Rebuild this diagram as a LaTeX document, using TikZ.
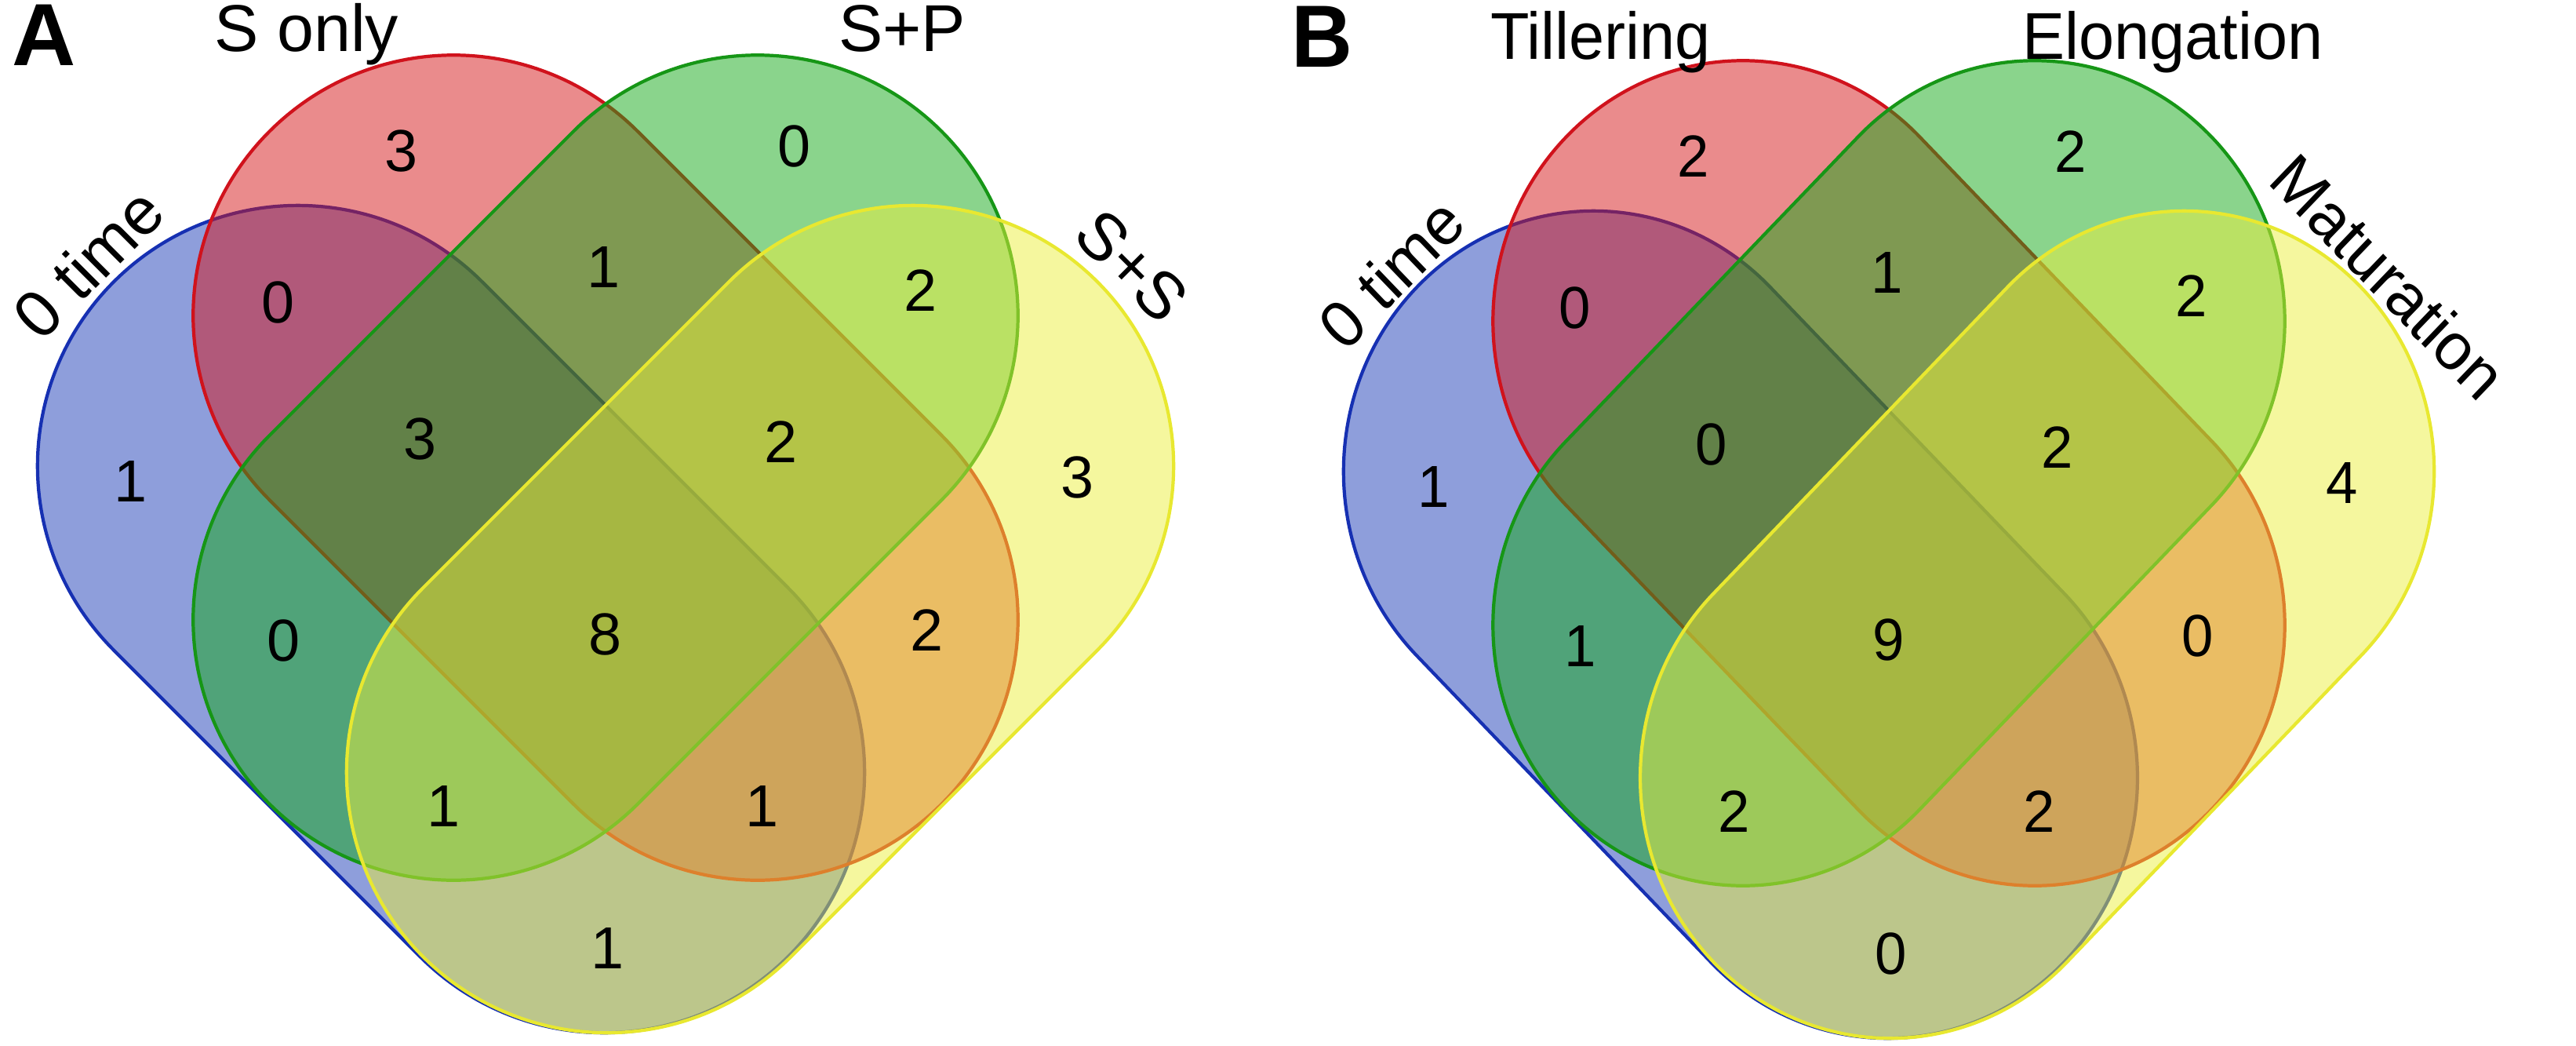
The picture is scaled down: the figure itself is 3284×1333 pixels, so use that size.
\documentclass[tikz,border=0pt]{standalone}
\usepackage{fontspec}
\setmainfont{Liberation Sans}
\definecolor{fblue}{RGB}{29,61,183}
\definecolor{fred}{RGB}{213,23,26}
\definecolor{fgreen}{RGB}{21,169,25}
\definecolor{fyellow}{RGB}{235,239,61}
\definecolor{lblue}{RGB}{22,48,178}
\definecolor{lred}{RGB}{208,18,28}
\definecolor{lgreen}{RGB}{22,150,22}
\definecolor{lyellow}{RGB}{232,232,48}
% capsule: centre x, centre y, angle, style, half length of straight part
\newcommand{\vcapsule}[5]{%
  \path[#4,shift={(#1,#2)},rotate=#3]
    (-#5,-332) -- (#5,-332) arc[start angle=-90,end angle=90,radius=332]
    -- (-#5,332) arc[start angle=90,end angle=270,radius=332] -- cycle;}
\newcommand{\vennsets}{%
  \vcapsule{-197}{789}{-45}{sblue}{276}
  \vcapsule{0}{596}{-45}{sred}{274}
  \vcapsule{0}{596}{45}{sgreen}{274}
  \vcapsule{197}{789}{45}{syellow}{276}}
\begin{document}
\begin{tikzpicture}[x=0.01cm,y=-0.01cm,
  num/.style={font=\fontsize{21.5}{24}\selectfont,inner sep=0pt},
  cat/.style={font=\fontsize{24}{28}\selectfont,inner sep=0pt},
  pan/.style={font=\fontsize{32}{36}\selectfont\bfseries,inner sep=0pt},
  setline/.style={line width=1.2pt,line join=round,fill opacity=0.5},
  sblue/.style={setline,draw=lblue,fill=fblue},
  sred/.style={setline,draw=lred,fill=fred},
  sgreen/.style={setline,draw=lgreen,fill=fgreen},
  syellow/.style={setline,draw=lyellow,fill=fyellow}]
\useasboundingbox (0,0) rectangle (3284,1333);
% ---------- Panel A ----------
\begin{scope}[shift={(772,0)}]
  \vennsets
  \node[num] (a1)  at (-260,192)  {3};
  \node[num] (a2)  at (241,186)   {0};
  \node[num] (a3)  at (-417,385)  {0};
  \node[num] (a4)  at (-2,340)    {1};
  \node[num] (a5)  at (402,370)   {2};
  \node[num] (a6)  at (-605,613)  {1};
  \node[num] (a7)  at (-236,559)  {3};
  \node[num] (a8)  at (224,563)   {2};
  \node[num] (a9)  at (602,608)   {3};
  \node[num] (a10) at (-410,816)  {0};
  \node[num] (a11) at (0,808)     {8};
  \node[num] (a12) at (410,803)   {2};
  \node[num] (a13) at (-206,1027) {1};
  \node[num] (a14) at (200,1027)  {1};
  \node[num] (a15) at (3,1208)    {1};
  \node[pan] (pA) at (-716,45) {A};
  \node[cat,anchor=base] (cA2) at (-381,65) {S only};
  \node[cat,anchor=base] (cA3) at (378,65) {S+P};
  \node[cat,rotate=45] (cA1) at (-660,335) {0 time};
  \node[cat,rotate=-45] (cA4) at (671,339) {S+S};
\end{scope}
% ---------- Panel B ----------
\begin{scope}[shift={(2408,7)},xscale=0.96,transform shape]
  \vennsets
  \node[num] (b1)  at (-260,192)  {2};
  \node[num] (b2)  at (241,186)   {2};
  \node[num] (b3)  at (-417,385)  {0};
  \node[num] (b4)  at (-2,340)    {1};
  \node[num] (b5)  at (402,370)   {2};
  \node[num] (b6)  at (-605,613)  {1};
  \node[num] (b7)  at (-236,559)  {0};
  \node[num] (b8)  at (224,563)   {2};
  \node[num] (b9)  at (602,608)   {4};
  \node[num] (b10) at (-410,816)  {1};
  \node[num] (b11) at (0,808)     {9};
  \node[num] (b12) at (410,803)   {0};
  \node[num] (b13) at (-206,1027) {2};
  \node[num] (b14) at (200,1027)  {2};
  \node[num] (b15) at (3,1208)    {0};
  \node[pan] (pB) at (-753,40) {B};
  \node[cat,anchor=base] (cB2) at (-383,68) {Tillering};
  \node[cat,anchor=base] (cB3) at (377,68) {Elongation};
  \node[cat,rotate=45] (cB1) at (-661,341) {0 time};
  \node[cat,rotate=-45] (cB4) at (664,345) {Maturation};
\end{scope}
\end{tikzpicture}
\end{document}
